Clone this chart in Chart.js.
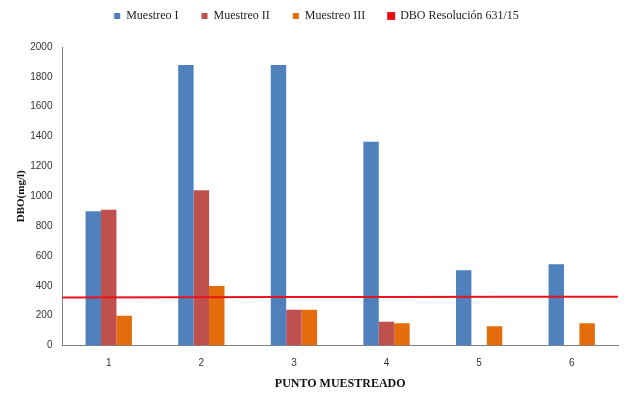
<!DOCTYPE html>
<html>
<head>
<meta charset="utf-8">
<script src="https://cdn.jsdelivr.net/npm/chart.js@4/dist/chart.umd.min.js"></script>
<style>
  html, body { margin: 0; padding: 0; background: #fff; }
  #wrap { width: 642px; height: 393px; }
</style>
</head>
<body>
<div id="wrap"><canvas id="dboChart"></canvas></div>
<script>
const puntos = ['1', '2', '3', '4', '5', '6'];
const muestreo1 = [900, 1880, 1880, 1365, 505, 545];
const muestreo2 = [910, 1040, 240, 160, 0, 0];
const muestreo3 = [200, 400, 240, 150, 130, 150];
const dboLimite = [323, 324, 325, 326, 327, 328];

const serif = "'Liberation Serif', 'Times New Roman', serif";
const sans = "'Liberation Sans', Arial, sans-serif";

// extra space under the legend
const legendMargin = {
    id: 'legendMargin',
    beforeInit(chart) {
        const fitLegend = chart.legend.fit;
        chart.legend.fit = function fit() {
            fitLegend.bind(chart.legend)();
            this.height += 15;
        };
    }
};

const ctx = document.getElementById('dboChart').getContext('2d');
const chart = new Chart(ctx, {
    data: {
        labels: puntos,
        datasets: [
            { type: 'bar', indexAxis: 'x', label: 'Muestreo I', data: muestreo1, backgroundColor: '#4F81BD', categoryPercentage: 0.5, barPercentage: 1.0 },
            { type: 'bar', indexAxis: 'x', label: 'Muestreo II', data: muestreo2, backgroundColor: '#C0504D', categoryPercentage: 0.5, barPercentage: 1.0 },
            { type: 'bar', indexAxis: 'x', label: 'Muestreo III', data: muestreo3, backgroundColor: '#E46C0A', categoryPercentage: 0.5, barPercentage: 1.0 },
            {
                type: 'line',
                indexAxis: 'x',
                label: 'DBO Resolución 631/15',
                data: dboLimite,
                xAxisID: 'xLinea',
                borderColor: '#E8141B',
                backgroundColor: '#FF0000',
                borderWidth: 2,
                pointRadius: 0,
                order: -1
            }
        ]
    },
    options: {
        // bars keep their own indexAxis; this stops the second x axis halving the bar groups
        indexAxis: 'y',
        responsive: true,
        maintainAspectRatio: false,
        animation: false,
        layout: { padding: { left: 15, right: 24, top: -13, bottom: 0 } },
        plugins: {
            legend: {
                labels: {
                    sort: (a, b) => a.datasetIndex - b.datasetIndex,
                    boxWidth: 6, boxHeight: 6, padding: 23, color: '#222',
                    font: { family: serif, size: 12 }
                }
            },
            tooltip: { enabled: false }
        },
        scales: {
            x: {
                type: 'category',
                grid: { display: false, drawTicks: false },
                border: { color: '#808080' },
                ticks: { color: '#333', padding: 12, font: { family: sans, size: 10 } },
                title: { display: true, text: 'PUNTO MUESTREADO', color: '#111', padding: { top: -5, bottom: 2 },
                    font: { family: serif, size: 12, weight: 'bold' } }
            },
            xLinea: { type: 'category', labels: puntos, offset: false, display: false },
            y: {
                type: 'linear',
                min: 0, max: 2000,
                ticks: { stepSize: 200, color: '#333', padding: 10, font: { family: sans, size: 10 }, callback: v => String(v) },
                grid: { display: false, drawTicks: false },
                border: { color: '#808080' },
                title: { display: true, text: 'DBO(mg/l)', color: '#111', padding: { top: 0, bottom: -8 },
                    font: { family: serif, size: 11, weight: 'bold' } }
            }
        }
    },
    plugins: [legendMargin]
});
</script>
</body>
</html>
